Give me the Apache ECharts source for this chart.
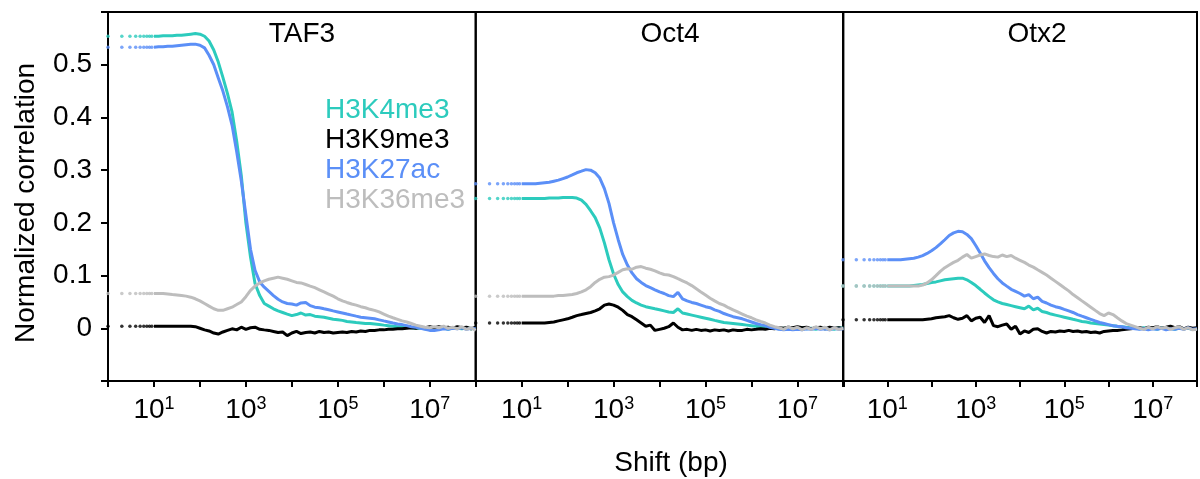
<!DOCTYPE html>
<html>
<head>
<meta charset="utf-8">
<title>Normalized correlation vs shift</title>
<script src="https://cdn.jsdelivr.net/npm/echarts@6.0.0/dist/echarts.min.js"></script>
<style>
  html, body { margin: 0; padding: 0; background: #fff; }
  #chart { width: 1200px; height: 479px; }
</style>
</head>
<body>
<div id="chart"></div>
<script>
// shift in bp: single points 1..9, then 10 steps per decade up to 1e8
const shift = [
  1, 2, 3, 4, 5, 6, 7, 8, 9,
  10, 12.6, 15.8, 20, 25.1, 31.6, 39.8, 50.1, 63.1, 79.4,
  100, 126, 158, 200, 251, 316, 398, 501, 631, 794,
  1e3, 1.26e3, 1.58e3, 2e3, 2.51e3, 3.16e3, 3.98e3, 5.01e3, 6.31e3, 7.94e3,
  1e4, 1.26e4, 1.58e4, 2e4, 2.51e4, 3.16e4, 3.98e4, 5.01e4, 6.31e4, 7.94e4,
  1e5, 1.26e5, 1.58e5, 2e5, 2.51e5, 3.16e5, 3.98e5, 5.01e5, 6.31e5, 7.94e5,
  1e6, 1.26e6, 1.58e6, 2e6, 2.51e6, 3.16e6, 3.98e6, 5.01e6, 6.31e6, 7.94e6,
  1e7, 1.26e7, 1.58e7, 2e7, 2.51e7, 3.16e7, 3.98e7, 5.01e7, 6.31e7, 7.94e7,
  1e8
]
const dotCount = 9

const panelNames = ['TAF3', 'Oct4', 'Otx2']
const markNames = ['H3K4me3', 'H3K9me3', 'H3K27ac', 'H3K36me3']
const markColors = ['#2ccbbd', '#000000', '#5b8ff7', '#bdbdbd']

const yTicks = [-0.1, 0, 0.1, 0.2, 0.3, 0.4, 0.5, 0.6]

// TAF3
const taf3K4 = [
  .554, .554, .554, .554, .554, .554, .554, .554, .554,
  .554, .554, .555, .555, .555, .556, .556, .557, .558, .559,
  .558, .554, .545, .528, .505, .476, .445, .41, .355, .29,
  .2, .135, .085, .062, .047, .042, .037, .033, .03, .027,
  .024, .026, .029, .025, .026, .023, .022, .021, .019, .017,
  .016, .015, .013, .012, .011, .01, .009, .009, .008, .007,
  .006, .005, .004, .003, .003, .002, .001, 0, 0, -.001,
  -.002, -.001, 0, .001, -.002, .001, 0, -.001, .001, -.001,
  0
]
const taf3K9 = [
  .004, .004, .004, .004, .004, .004, .004, .004, .004,
  .004, .004, .004, .004, .004, .004, .004, .004, .004, .003,
  0, -.003, -.005, -.009, -.011, -.007, -.004, -.001, -.003, .002,
  -.002, .001, .002, -.002, -.003, -.004, -.006, -.008, -.007, -.014,
  -.009, -.006, -.01, -.008, -.007, -.009, -.006, -.008, -.007, -.009,
  -.008, -.007, -.008, -.006, -.007, -.005, -.006, -.004, -.004, -.003,
  -.003, -.002, -.002, -.001, -.001, 0, .001, 0, .002, .001,
  .003, .001, .003, .001, .002, 0, .003, .001, .002, -.001,
  .002
]
const taf3K27 = [
  .533, .533, .533, .533, .533, .533, .533, .533, .533,
  .533, .534, .534, .535, .535, .536, .537, .538, .539, .539,
  .537, .532, .518, .5, .475, .45, .42, .385, .335, .28,
  .215, .15, .11, .088, .078, .07, .062, .055, .05, .047,
  .046, .044, .048, .049, .043, .04, .039, .037, .035, .033,
  .031, .029, .027, .025, .023, .021, .02, .019, .018, .016,
  .014, .012, .01, .008, .007, .005, .003, .002, 0, -.002,
  -.004, -.004, -.003, -.001, -.002, 0, -.001, .001, -.002, 0,
  -.001
]
const taf3K36 = [
  .066, .066, .066, .066, .066, .066, .066, .066, .066,
  .066, .066, .066, .065, .064, .063, .062, .061, .059, .056,
  .052, .047, .042, .037, .034, .034, .037, .04, .045, .05,
  .06, .072, .08, .086, .09, .093, .095, .097, .095, .093,
  .09, .087, .086, .083, .08, .077, .073, .069, .065, .061,
  .056, .052, .049, .046, .044, .041, .039, .036, .034, .031,
  .027, .023, .02, .017, .014, .012, .009, .006, .004, .002,
  .001, .003, .001, .004, 0, .002, -.001, .003, -.002, .001,
  -.004
]

// Oct4
const oct4K4 = [
  .246, .246, .246, .246, .246, .246, .246, .246, .246,
  .246, .246, .246, .246, .246, .246, .247, .247, .247, .248,
  .248, .248, .247, .243, .235, .223, .21, .19, .162, .13,
  .103, .083, .069, .06, .053, .048, .044, .041, .039, .037,
  .035, .033, .031, .03, .037, .029, .027, .025, .023, .021,
  .019, .017, .015, .013, .011, .01, .009, .008, .007, .006,
  .005, .004, .003, .002, .001, 0, -.001, 0, -.002, 0,
  -.001, .001, -.001, 0, -.002, .001, -.001, 0, -.002, .001,
  0
]
const oct4K9 = [
  .01, .01, .01, .01, .01, .01, .01, .01, .01,
  .01, .01, .01, .01, .01, .01, .011, .012, .014, .016,
  .018, .021, .024, .026, .028, .03, .033, .037, .044, .046,
  .044, .04, .034, .026, .022, .016, .01, .004, .006, -.004,
  -.002, 0, .003, .01, .002, -.003, -.002, -.004, -.002, -.004,
  -.003, -.005, -.003, -.004, -.003, -.005, -.003, -.004, -.004, -.002,
  -.003, -.002, -.001, -.002, 0, -.001, .001, 0, .002, .001,
  .003, .001, .002, -.001, .001, .002, -.001, .002, 0, .001,
  -.001
]
const oct4K27 = [
  .274, .274, .274, .274, .274, .274, .274, .274, .274,
  .274, .274, .274, .274, .275, .276, .277, .279, .281, .284,
  .287, .291, .295, .298, .301, .3, .295, .285, .265, .237,
  .2, .168, .14, .12, .105, .094, .087, .081, .077, .073,
  .069, .066, .062, .06, .068, .056, .052, .049, .047, .044,
  .041, .039, .035, .032, .028, .025, .022, .02, .018, .015,
  .012, .009, .007, .005, .002, 0, -.002, -.003, -.002, -.003,
  -.002, -.003, -.001, -.002, 0, -.002, -.001, -.003, 0, -.002,
  -.001
]
const oct4K36 = [
  .061, .061, .061, .061, .061, .061, .061, .061, .061,
  .061, .061, .061, .061, .061, .061, .061, .061, .062, .062,
  .063, .064, .066, .069, .073, .079, .087, .093, .097, .098,
  .101, .106, .111, .113, .112, .116, .117, .114, .112, .109,
  .105, .102, .101, .098, .094, .09, .086, .081, .075, .069,
  .063, .057, .052, .047, .044, .039, .035, .031, .027, .023,
  .02, .016, .013, .01, .006, .003, .001, -.002, .003, -.001,
  .002, -.003, .001, -.002, .003, -.001, .002, -.003, .001, -.002,
  0
]

// Otx2
const otx2K4 = [
  .08, .08, .08, .08, .08, .08, .08, .08, .08,
  .08, .08, .08, .08, .08, .08, .081, .082, .083, .085,
  .087, .088, .09, .092, .093, .094, .095, .095, .092, .087,
  .081, .074, .067, .06, .054, .05, .047, .045, .043, .041,
  .039, .037, .042, .035, .038, .032, .03, .027, .025, .023,
  .021, .019, .017, .015, .013, .012, .01, .009, .008, .007,
  .006, .005, .004, .003, .002, .001, 0, -.001, .001, -.001,
  0, -.002, .001, -.001, 0, -.002, .001, -.001, 0, -.002,
  0
]
const otx2K9 = [
  .016, .016, .016, .016, .016, .016, .016, .016, .016,
  .016, .016, .016, .016, .016, .016, .016, .016, .016, .017,
  .018, .02, .021, .022, .024, .02, .017, .019, .024, .014,
  .019, .021, .011, .024, .005, .003, .006, .008, -.002, .004,
  -.011, -.005, -.008, -.002, -.001, -.006, -.009, -.006, -.007, -.005,
  -.006, -.004, -.006, -.005, -.007, -.006, -.008, -.007, -.009, -.006,
  -.005, -.004, -.004, -.003, -.002, -.001, 0, .001, -.001, .002,
  .001, .003, 0, .002, .004, .001, .003, -.001, .002, 0,
  .001
]
const otx2K27 = [
  .13, .13, .13, .13, .13, .13, .13, .13, .13,
  .13, .13, .13, .13, .131, .132, .133, .135, .138, .142,
  .147, .153, .16, .168, .176, .181, .184, .183, .178, .17,
  .157, .143, .128, .115, .104, .094, .086, .08, .074, .07,
  .066, .061, .064, .056, .059, .051, .048, .044, .041, .039,
  .036, .033, .03, .026, .023, .02, .017, .014, .011, .009,
  .007, .005, .004, .003, .001, 0, -.001, -.002, -.001, -.003,
  -.001, -.002, 0, -.003, -.001, -.002, 0, -.002, .001, -.002,
  -.001
]
const otx2K36 = [
  .08, .08, .08, .08, .08, .08, .08, .08, .08,
  .08, .08, .08, .08, .08, .08, .08, .08, .082, .086,
  .092, .1, .108, .115, .12, .125, .129, .135, .14, .133,
  .136, .139, .141, .138, .136, .135, .139, .136, .138, .133,
  .129, .125, .12, .116, .111, .106, .101, .095, .089, .083,
  .077, .071, .064, .058, .052, .046, .04, .034, .028, .024,
  .029, .026, .02, .014, .009, .006, .003, 0, -.002, .002,
  -.001, .003, 0, .002, -.002, .001, .003, -.002, .001, -.003,
  -.002
]

const panelData = [
  [taf3K4, taf3K9, taf3K27, taf3K36],
  [oct4K4, oct4K9, oct4K27, oct4K36],
  [otx2K4, otx2K9, otx2K27, otx2K36]
]

const FONT = 'Liberation Sans'
const panelLeft = [108, 475.7, 843]
const panelWidth = 367.7

const chart = echarts.init(document.getElementById('chart'))

const grid = panelLeft.map(left => ({
  left: left,
  top: 12,
  width: panelWidth,
  height: 369,
  show: true,
  borderColor: '#000',
  borderWidth: 2,
  backgroundColor: 'transparent'
}))

const xAxis = panelLeft.map((_, i) => ({
  type: 'log',
  logBase: 10,
  gridIndex: i,
  min: 1,
  max: 1e8,
  axisLine: { show: true, onZero: false, lineStyle: { color: '#000', width: 2 } },
  axisTick: { show: true, length: 6, lineStyle: { color: '#000', width: 2 } },
  splitLine: { show: false },
  axisLabel: {
    margin: 14,
    formatter: v => {
      const e = Math.round(Math.log10(v))
      return e % 2 === 1 ? '{b|10}{s|' + e + '}' : ''
    },
    rich: {
      b: { fontSize: 28, fontFamily: FONT, color: '#000', lineHeight: 30 },
      s: { fontSize: 18, fontFamily: FONT, color: '#000', lineHeight: 10, verticalAlign: 'top' }
    }
  }
}))

const yAxis = panelLeft.map((_, i) => ({
  type: 'value',
  gridIndex: i,
  min: yTicks[0],
  max: yTicks[yTicks.length - 1],
  interval: 0.1,
  splitLine: { show: false },
  axisLine: { show: i === 0, onZero: false, lineStyle: { color: '#000', width: 2 } },
  axisTick: { show: i === 0, length: 7, lineStyle: { color: '#000', width: 2 } },
  axisLabel: {
    show: i === 0,
    margin: 16,
    fontSize: 28,
    fontFamily: FONT,
    color: '#000',
    formatter: v => {
      if (v < -0.05 || v > 0.55) return ''
      return Math.abs(v) < 1e-9 ? '0' : v.toFixed(1)
    }
  }
}))

const series = []
panelData.forEach((marks, p) => {
  marks.forEach((vals, m) => {
    // sparse leading points are drawn as separate dots
    series.push({
      type: 'scatter',
      name: markNames[m],
      xAxisIndex: p,
      yAxisIndex: p,
      symbolSize: 3.5,
      itemStyle: { color: markColors[m] },
      data: shift.slice(0, dotCount).map((s, k) => [s, vals[k]])
    })
    series.push({
      type: 'line',
      name: markNames[m],
      xAxisIndex: p,
      yAxisIndex: p,
      showSymbol: false,
      lineStyle: { color: markColors[m], width: 3 },
      data: shift.slice(dotCount).map((s, k) => [s, vals[k + dotCount]])
    })
  })
})

const titleX = [302, 670, 1037]
const graphic = panelNames.map((name, i) => ({
  type: 'text',
  x: titleX[i],
  y: 34,
  style: { text: name, fontSize: 28, fontFamily: FONT, fill: '#000', align: 'center', verticalAlign: 'middle' }
}))
markNames.forEach((name, i) => {
  graphic.push({
    type: 'text',
    x: 325,
    y: 110 + i * 30,
    style: { text: name, fontSize: 28, fontFamily: FONT, fill: markColors[i], align: 'left', verticalAlign: 'middle' }
  })
})
graphic.push({
  type: 'text',
  x: 671,
  y: 463,
  style: { text: 'Shift (bp)', fontSize: 28, fontFamily: FONT, fill: '#000', align: 'center', verticalAlign: 'middle' }
})
graphic.push({
  type: 'text',
  x: 26,
  y: 203,
  rotation: Math.PI / 2,
  style: { text: 'Normalized correlation', fontSize: 28, fontFamily: FONT, fill: '#000', align: 'center', verticalAlign: 'middle' }
})

chart.setOption({
  animation: false,
  backgroundColor: '#fff',
  grid: grid,
  xAxis: xAxis,
  yAxis: yAxis,
  series: series,
  graphic: graphic
})
</script>
</body>
</html>
